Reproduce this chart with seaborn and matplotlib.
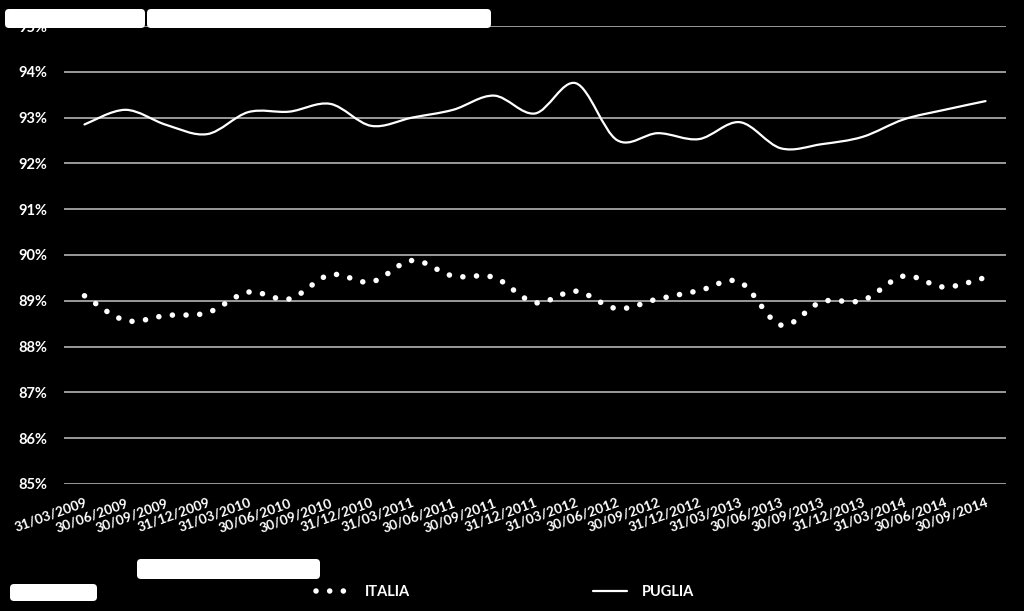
import numpy as np
import pandas as pd
import matplotlib
matplotlib.use("Agg")
import matplotlib.pyplot as plt
import seaborn as sns
from matplotlib.path import Path
from matplotlib.patches import PathPatch, FancyBboxPatch
from matplotlib.lines import Line2D
from matplotlib.transforms import IdentityTransform
from matplotlib.font_manager import FontProperties

# ---------------- data ----------------
dates = ["31/03/2009", "30/06/2009", "30/09/2009", "31/12/2009",
         "31/03/2010", "30/06/2010", "30/09/2010", "31/12/2010",
         "31/03/2011", "30/06/2011", "30/09/2011", "31/12/2011",
         "31/03/2012", "30/06/2012", "30/09/2012", "31/12/2012",
         "31/03/2013", "30/06/2013", "30/09/2013", "31/12/2013",
         "31/03/2014", "30/06/2014", "30/09/2014"]
italia = [89.11, 88.57, 88.68, 88.74, 89.19, 89.04, 89.57, 89.41,
          89.88, 89.54, 89.51, 88.96, 89.21, 88.83, 89.04, 89.22,
          89.41, 88.47, 88.98, 89.01, 89.54, 89.30, 89.51]
puglia = [92.85, 93.17, 92.84, 92.64, 93.12, 93.13, 93.30, 92.82,
          93.00, 93.17, 93.48, 93.09, 93.75, 92.51, 92.66, 92.53,
          92.90, 92.33, 92.42, 92.58, 92.96, 93.17, 93.36]
y_ticks = [85, 86, 87, 88, 89, 90, 91, 92, 93, 94, 95]
series_names = ["ITALIA", "PUGLIA"]

# ---------------- style ----------------
sns.set_style("dark", {"axes.facecolor": "black", "figure.facecolor": "black"})
plt.rcParams["font.family"] = ["Lato", "DejaVu Sans"]

W, H = 1024, 611
fig = plt.figure(figsize=(W / 100, H / 100), dpi=100, facecolor="black")
ax = fig.add_axes([64 / W, 1 - 484 / H, (1006 - 64) / W, (484 - 26) / H])
ax.set_facecolor("black")

n = len(dates)
df = pd.DataFrame({"idx": np.arange(n), "ITALIA": italia, "PUGLIA": puglia})
long = df.melt(id_vars="idx", var_name="serie", value_name="val")
# register the data with seaborn (lines drawn smoothed below)
sns.lineplot(data=long, x="idx", y="val", hue="serie", ax=ax,
             linewidth=0, legend=False, palette=["white", "white"])


def smooth_path(vals):
    pts = np.column_stack([np.arange(len(vals)), vals]).astype(float)
    m = len(pts)
    verts = [pts[0]]
    codes = [Path.MOVETO]
    for i in range(m - 1):
        p0 = pts[max(i - 1, 0)]
        p1 = pts[i]
        p2 = pts[i + 1]
        p3 = pts[min(i + 2, m - 1)]
        c1 = p1 + (p2 - p0) / 6.0
        c2 = p2 - (p3 - p1) / 6.0
        verts += [c1, c2, p2]
        codes += [Path.CURVE4] * 3
    return Path(verts, codes)


dot_lw = 4.0
dot_style = (0, (0.01, 2.45))
pi = PathPatch(smooth_path(italia), fill=False, edgecolor="white",
               lw=dot_lw, linestyle=dot_style, capstyle="round", zorder=3)
ax.add_patch(pi)
pp = PathPatch(smooth_path(puglia), fill=False, edgecolor="white",
               lw=1.6, zorder=3, capstyle="round")
ax.add_patch(pp)

ax.set_xlim(-0.5, n - 0.5)
ax.set_ylim(85, 95)
ax.set_yticks(y_ticks)
ax.set_yticklabels([f"{v}%" for v in y_ticks])
ax.set_xticks(np.arange(n))
ax.set_xticklabels(dates, rotation=20, ha="right", rotation_mode="anchor")
ax.set_xlabel("")
ax.set_ylabel("")
ax.grid(False)
ax.yaxis.grid(True, color="#a6a6a6", lw=1.3)
ax.set_axisbelow(True)
for s in ax.spines.values():
    s.set_visible(False)
ax.tick_params(axis="both", length=0, colors="white")
ax.tick_params(axis="y", pad=12, labelsize=10.5)
ax.tick_params(axis="x", pad=9, labelsize=9.8)
for lab in ax.get_xticklabels() + ax.get_yticklabels():
    lab.set_fontweight("bold")
    lab.set_color("white")

# legend
handles = [Line2D([], [], color="white", lw=dot_lw, linestyle=dot_style,
                  dash_capstyle="round", solid_capstyle="round"),
           Line2D([], [], color="white", lw=1.6)]
leg_font = FontProperties(family=["Lato", "DejaVu Sans"], weight="bold", size=10.5)
leg = fig.legend(handles, series_names, loc="center", ncol=2,
                 bbox_to_anchor=(505 / W, 1 - 592 / H), frameon=False,
                 handlelength=2.3, handletextpad=1.0, columnspacing=12.6,
                 prop=leg_font)
for t in leg.get_texts():
    t.set_color("white")

# white rounded boxes (as in the reference)
boxes = [(5, 9, 145, 28), (147, 9, 491, 28), (137, 559, 320, 579), (10, 584, 97, 601)]
for x0, y0, x1, y1 in boxes:
    fb = FancyBboxPatch((x0, H - y1), x1 - x0, y1 - y0,
                        boxstyle="round,pad=0,rounding_size=4",
                        transform=IdentityTransform(), facecolor="white",
                        edgecolor="none", zorder=10)
    fig.add_artist(fb)

fig.savefig("out.png", dpi=100, facecolor="black")
